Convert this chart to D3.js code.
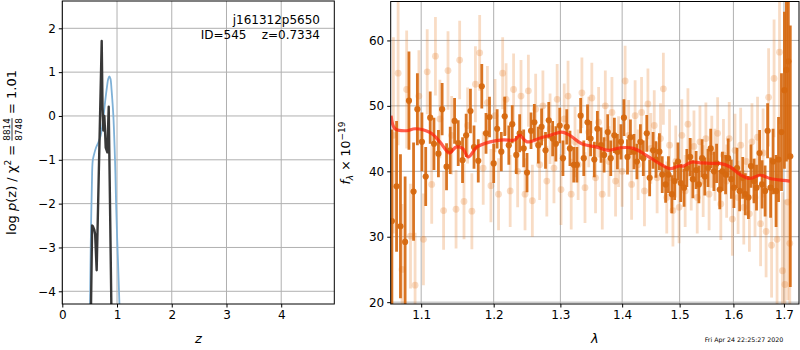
<!DOCTYPE html>
<html><head><meta charset="utf-8">
<script src="https://cdn.jsdelivr.net/npm/d3@7"></script>
<style>
html,body{margin:0;padding:0;background:#fff;}
svg{display:block;font-family:"DejaVu Sans",sans-serif;}
</style></head>
<body><svg id="c" width="800" height="350"></svg>
<script>
// ---------- DATA ----------
// left panel: log p(z)
const pzBlueZ = [0.507,0.515,0.526,0.54,0.556,0.58,0.617,0.66,0.70,0.74,0.78,0.82,0.84,0.86,0.88,0.90,0.915,0.934,0.955,0.97,0.983,1.0,1.02,1.044];
const pzBlueV = [-4.3,-3.4,-2.46,-1.6,-1.02,-0.88,-0.72,-0.6,-0.45,-0.15,0.3,0.7,0.85,0.9,0.85,0.6,0.35,-0.02,-0.7,-1.3,-2.0,-2.7,-3.4,-4.3];
const pzDarkZ = [0.525,0.545,0.56,0.585,0.60,0.628,0.72,0.735,0.75,0.768,0.78,0.793,0.823,0.848,0.896];
const pzDarkV = [-4.3,-2.5,-2.52,-2.6,-2.7,-3.52,1.71,0.2,-0.33,0.0,-0.3,-0.72,-0.83,0.21,-4.3];
const leftXTicks = [0,1,2,3,4];
const leftYTicks = [-4,-3,-2,-1,0,1,2];

// right panel: spectrum (dark = binned, light = second set)
const darkWave = [1.062,1.068,1.073,1.079,1.084,1.090,1.095,1.101,1.106,1.112,
1.117,1.123,1.128,1.134,1.139,1.145,1.150,1.156,1.161,1.167,
1.172,1.178,1.183,1.189,1.194,1.200,1.205,1.211,1.216,1.222,
1.227,1.233,1.238,1.244,1.249,1.255,1.260,1.266,1.271,1.277,
1.282,1.288,1.293,1.299,1.304,1.310,1.315,1.321,1.326,1.332,
1.337,1.343,1.348,1.354,1.359,1.365,1.370,1.376,1.381,1.387,
1.392,1.398,1.403,1.409,1.414,1.420,1.425,1.431,1.436,1.442,
1.447,1.453,1.458,1.464,1.469,1.475,1.480,1.486,1.491,1.497,
1.502,1.508,1.513,1.519,1.524,1.530,1.535,1.541,1.546,1.552,
1.557,1.563,1.568,1.574,1.579,1.585,1.590,1.596,1.601,1.607,
1.612,1.618,1.623,1.629,1.634,1.640,1.645,1.651,1.656,1.662,
1.667,1.673,1.678,1.684,1.689,1.695,1.701,1.705,1.709,1.713];
const darkFlux = [32.4,37.7,31.6,29.2,50.8,36.9,49.5,44.5,39.2,48.2,
44.2,42.7,49.5,40.7,43.2,47.7,44.3,41.7,45.5,49.2,
43.7,41.6,53.0,45.8,48.3,41.2,46.5,43.0,48.4,44.0,
47.2,42.5,45.8,43.5,39.8,46.2,47.5,44.0,46.8,43.2,
47.8,45.0,44.2,47.0,42.0,46.8,43.5,41.0,41.0,48.5,
42.0,47.5,45.0,41.8,46.5,44.0,42.5,46.0,42.0,45.5,
43.0,44.5,48.2,42.2,45.2,43.0,41.5,44.5,42.0,45.8,
39.0,43.2,41.8,43.0,39.5,38.0,39.5,36.5,38.5,41.5,
38.2,37.5,40.5,42.2,38.8,40.2,38.0,42.0,39.2,40.5,
43.5,40.0,41.2,37.2,40.0,39.5,42.0,38.8,37.5,40.5,
37.0,39.0,36.5,36.0,40.8,38.5,37.5,42.8,38.0,37.0,
46.2,37.5,41.5,37.0,41.8,46.0,52.4,55.5,56.8,42.3];
const darkErr = [14,10,11,10,7.5,7.5,5.5,4.5,4.5,4,
4,3.6,4,3.6,3.6,3.5,3.5,3.5,3.3,3.4,
3.3,3.3,3.4,3.1,3.1,3.0,3.0,3.0,3.0,3.0,
2.9,2.9,2.9,2.9,3.0,2.8,2.8,2.8,2.8,2.8,
2.8,2.7,2.7,2.7,2.7,2.7,2.7,2.7,2.7,2.7,
2.7,2.7,2.7,2.7,2.7,2.7,2.7,2.7,2.7,2.7,
2.7,2.7,2.8,2.7,2.7,2.7,2.7,2.7,2.7,2.8,
2.8,2.8,2.8,2.8,2.8,2.8,2.8,2.9,2.9,2.9,
2.9,2.9,2.9,2.9,2.9,2.9,2.9,2.9,2.9,2.9,
3.0,3.0,3.0,3.0,3.0,3.0,3.0,3.0,3.1,3.1,
3.1,3.2,3.2,3.3,3.3,3.4,3.5,3.5,3.7,3.9,
4.2,4.6,5,5.5,6.5,9,12,14,15,20];

const lightWave = [1.064,1.070,1.075,1.081,1.086,1.092,1.097,1.103,1.108,1.114,
1.119,1.125,1.130,1.136,1.141,1.147,1.152,1.158,1.163,1.169,
1.174,1.180,1.185,1.191,1.196,1.202,1.207,1.213,1.218,1.224,
1.229,1.235,1.240,1.246,1.251,1.257,1.262,1.268,1.273,1.279,
1.284,1.290,1.295,1.301,1.306,1.312,1.317,1.323,1.328,1.334,
1.339,1.345,1.350,1.356,1.361,1.367,1.372,1.378,1.383,1.389,
1.394,1.400,1.405,1.411,1.416,1.422,1.427,1.433,1.438,1.444,
1.449,1.455,1.460,1.466,1.471,1.477,1.482,1.488,1.493,1.499,
1.504,1.510,1.515,1.521,1.526,1.532,1.537,1.543,1.548,1.554,
1.559,1.565,1.570,1.576,1.581,1.587,1.592,1.598,1.603,1.609,
1.614,1.620,1.625,1.631,1.636,1.642,1.647,1.653,1.658,1.664,
1.669,1.675,1.680,1.686,1.691,1.697,1.702,1.708,1.712];
const lightFlux = [45.5,55.0,25.0,52.5,30.1,22.6,51.5,29.6,55.2,38.0,
57.6,48.0,34.0,55.4,45.5,34.2,57.0,35.4,47.0,33.9,
53.3,58.1,40.5,50.5,37.8,48.5,36.5,55.0,51.0,37.0,
52.5,40.0,51.5,36.5,52.3,35.5,49.5,41.0,50.0,38.5,
46.5,40.5,51.0,37.2,48.0,51.5,36.5,44.5,41.0,52.0,
37.5,46.0,51.2,39.0,47.5,36.5,50.0,41.5,49.0,38.5,
43.0,40.0,53.8,45.5,38.0,48.5,41.0,49.0,37.0,50.3,
43.5,47.0,39.0,45.0,52.6,36.0,44.0,34.0,41.5,34.5,
45.5,37.0,47.2,39.5,43.8,36.0,44.5,38.5,45.0,36.5,
43.0,41.0,45.8,35.0,42.5,38.5,45.0,32.7,43.2,36.0,
44.0,34.5,41.5,33.5,44.5,36.0,45.2,32.0,42.8,30.8,
51.3,28.7,54.2,29.6,58.2,24.8,22.7,35.3,29.0];
const lightErr = [15,11,10,9,8,8,7,7,6.5,6,
6,6,6,6,6,6,6,5.8,5.8,5.8,
5.8,5.8,5.6,5.6,5.6,5.6,5.5,5.5,5.5,5.5,
5.5,5.5,5.5,5.5,5.5,5.5,5.4,5.4,5.4,5.4,
5.4,5.4,5.4,5.4,5.4,5.4,5.4,5.4,5.4,5.4,
5.4,5.4,5.4,5.4,5.4,5.4,5.4,5.4,5.4,5.4,
5.4,5.4,5.4,5.4,5.4,5.4,5.4,5.4,5.4,5.4,
5.4,5.4,5.4,5.4,5.5,5.5,5.5,5.5,5.5,5.5,
5.5,5.5,5.5,5.5,5.5,5.5,5.5,5.5,5.5,5.5,
5.5,5.5,5.5,5.5,5.5,5.6,5.6,5.6,5.6,5.6,
5.7,5.7,5.8,5.8,5.9,6,6.2,6.5,6.8,7,
7.5,8,9,10,11,12,13,15,16];

const modelWave = [1.061,1.066,1.081,1.092,1.112,1.125,1.138,1.147,1.156,1.164,1.176,1.195,1.214,1.231,1.238,1.249,1.269,1.284,1.302,1.313,1.334,1.358,1.377,1.397,1.419,1.442,1.462,1.483,1.498,1.507,1.522,1.537,1.556,1.574,1.593,1.613,1.632,1.652,1.672,1.699,1.712];
const modelFlux = [48.5,46.5,46.2,46.5,45.9,44.5,42.8,43.7,43.5,42.2,43.7,44.5,44.8,44.8,45.5,44.5,45.1,45.5,46.0,45.6,44.2,43.7,43.2,43.6,43.5,42.4,41.3,40.4,40.8,40.8,41.4,41.3,41.2,41.2,40.7,39.5,38.9,39.4,38.9,38.6,38.5];
const rightXTicks = [1.1,1.2,1.3,1.4,1.5,1.6,1.7];
const rightYTicks = [20,30,40,50,60];

// ---------- DRAW ----------
const svg = d3.select("#c");
const fmtMinus = d => (d<0 ? "\u2212"+Math.abs(d) : String(d));
const gridCol = "#b0b0b0";

function frame(g, x0,x1,y0,y1){
  g.append("rect").attr("x",x0).attr("y",y0).attr("width",x1-x0).attr("height",y1-y0)
   .attr("fill","none").attr("stroke","#000").attr("stroke-width",1);
}

// ----- Left panel -----
const L = {x0:62.3,x1:334.3,y0:1,y1:304};
const xL = d3.scaleLinear().domain([0,4.97]).range([L.x0,L.x1]);
const yL = d3.scaleLinear().domain([-4.29,2.623]).range([L.y1,L.y0]);
const gL = svg.append("g");
gL.append("defs").append("clipPath").attr("id","clipL").append("rect")
  .attr("x",L.x0).attr("y",L.y0).attr("width",L.x1-L.x0).attr("height",L.y1-L.y0);
gL.selectAll(".gx").data(leftXTicks).join("line").attr("x1",d=>xL(d)).attr("x2",d=>xL(d))
  .attr("y1",L.y0).attr("y2",L.y1).attr("stroke",gridCol).attr("stroke-width",1);
gL.selectAll(".gy").data(leftYTicks).join("line").attr("y1",d=>yL(d)).attr("y2",d=>yL(d))
  .attr("x1",L.x0).attr("x2",L.x1).attr("stroke",gridCol).attr("stroke-width",1);
const cl = gL.append("g").attr("clip-path","url(#clipL)");
const lineL = d3.line().x(d=>xL(d[0])).y(d=>yL(d[1]));
cl.append("path").attr("d",d3.line().x(d=>xL(d[0])).y(d=>yL(d[1])).curve(d3.curveCatmullRom)(pzBlueZ.map((z,i)=>[z,pzBlueV[i]])))
  .attr("fill","none").attr("stroke","#7fb1d7").attr("stroke-width",1.8);
cl.append("path").attr("d",lineL(pzDarkZ.map((z,i)=>[z,pzDarkV[i]])))
  .attr("fill","none").attr("stroke","#383838").attr("stroke-width",2.4).attr("stroke-linejoin","round");
const axLB = gL.append("g").attr("transform",`translate(0,${L.y1})`)
  .call(d3.axisBottom(xL).tickValues(leftXTicks).tickFormat(fmtMinus).tickSize(3.5).tickPadding(3));
const axLL = gL.append("g").attr("transform",`translate(${L.x0},0)`)
  .call(d3.axisLeft(yL).tickValues(leftYTicks).tickFormat(fmtMinus).tickSize(3.5).tickPadding(3));
[axLB,axLL].forEach(a=>{a.select(".domain").remove();a.selectAll("text").attr("font-size",12).attr("fill","#000").attr("font-family","DejaVu Sans");a.selectAll("line").attr("stroke","#000");});
frame(gL,L.x0,L.x1,L.y0,L.y1);
gL.append("text").attr("x",320).attr("y",24).attr("text-anchor","end").attr("font-size",12).text("j161312p5650");
gL.append("text").attr("x",320).attr("y",39).attr("text-anchor","end").attr("font-size",12).text("ID=545\u00a0\u00a0\u00a0\u00a0z=0.7334");
gL.append("text").attr("x",(L.x0+L.x1)/2).attr("y",343).attr("text-anchor","middle").attr("font-size",13).attr("font-style","italic").text("z");

// left y label (rotated, with stacked fraction)
(function(){
  const g = svg.append("g");
  const fs = 13;
  const t1 = g.append("text").attr("font-size",fs).attr("y",0);
  t1.append("tspan").text("log ");
  t1.append("tspan").attr("font-style","italic").text("p");
  t1.append("tspan").text("(z) / \u03c7");
  t1.append("tspan").attr("font-size",fs*0.7).attr("dy",-5).text("2");
  t1.append("tspan").attr("dy",5).text("\u00a0=\u00a0");
  const w1 = t1.node().getComputedTextLength();
  const ffs = fs*0.68;
  const num = g.append("text").attr("font-size",ffs).attr("x",w1).attr("y",-6).text("8814");
  const den = g.append("text").attr("font-size",ffs).attr("x",w1).attr("y",5.5).text("8748");
  const wf = Math.max(num.node().getComputedTextLength(),den.node().getComputedTextLength());
  g.append("line").attr("x1",w1).attr("x2",w1+wf).attr("y1",-4).attr("y2",-4).attr("stroke","#000").attr("stroke-width",0.8);
  const t2 = g.append("text").attr("font-size",fs).attr("x",w1+wf).attr("y",0).text("\u00a0=\u00a01.01");
  const tot = w1+wf+t2.node().getComputedTextLength();
  g.attr("transform",`translate(16,${152.5+tot/2}) rotate(-90)`);
})();

// ----- Right panel -----
const R = {x0:390.7,x1:799,y0:1.5,y1:304};
const xR = d3.scaleLog().domain([1.0605,1.731]).range([R.x0,R.x1]);
const yR = d3.scaleLinear().domain([19.72,65.95]).range([R.y1,R.y0]);
const gR = svg.append("g");
gR.append("defs").append("clipPath").attr("id","clipR").append("rect")
  .attr("x",R.x0).attr("y",R.y0).attr("width",R.x1-R.x0).attr("height",R.y1-R.y0);
gR.selectAll(".gx").data(rightXTicks).join("line").attr("x1",d=>xR(d)).attr("x2",d=>xR(d))
  .attr("y1",R.y0).attr("y2",R.y1).attr("stroke",gridCol).attr("stroke-width",1);
gR.selectAll(".gy").data(rightYTicks).join("line").attr("y1",d=>yR(d)).attr("y2",d=>yR(d))
  .attr("x1",R.x0).attr("x2",R.x1).attr("stroke",gridCol).attr("stroke-width",1);
const cr = gR.append("g").attr("clip-path","url(#clipR)");
const light = lightWave.map((w,i)=>({w,f:lightFlux[i],e:lightErr[i]}));
const dark = darkWave.map((w,i)=>({w,f:darkFlux[i],e:darkErr[i]}));
const lightCol = "#e6832f", darkCol = "#d6680f";
cr.append("g").selectAll("line").data(light).join("line")
  .attr("x1",d=>xR(d.w)).attr("x2",d=>xR(d.w)).attr("y1",d=>yR(d.f-d.e)).attr("y2",d=>yR(d.f+d.e))
  .attr("stroke",lightCol).attr("stroke-opacity",0.28).attr("stroke-width",2.8);
cr.append("g").selectAll("circle").data(light).join("circle")
  .attr("cx",d=>xR(d.w)).attr("cy",d=>yR(d.f)).attr("r",3.4)
  .attr("fill",lightCol).attr("fill-opacity",0.28);
cr.append("g").selectAll("line").data(dark).join("line")
  .attr("x1",d=>xR(d.w)).attr("x2",d=>xR(d.w)).attr("y1",d=>yR(d.f-d.e)).attr("y2",d=>yR(d.f+d.e))
  .attr("stroke",darkCol).attr("stroke-opacity",0.92).attr("stroke-width",2.8);
cr.append("g").selectAll("circle").data(dark).join("circle")
  .attr("cx",d=>xR(d.w)).attr("cy",d=>yR(d.f)).attr("r",3.1)
  .attr("fill",darkCol).attr("fill-opacity",0.95);
cr.append("path").attr("d",d3.line().x(d=>xR(d[0])).y(d=>yR(d[1])).curve(d3.curveCatmullRom)(modelWave.map((w,i)=>[w,modelFlux[i]])))
  .attr("fill","none").attr("stroke","#ff1e0a").attr("stroke-opacity",0.72).attr("stroke-width",3.2);
const axRB = gR.append("g").attr("transform",`translate(0,${R.y1})`)
  .call(d3.axisBottom(xR).tickValues(rightXTicks).tickFormat(d3.format(".1f")).tickSize(3.5).tickPadding(3));
const axRL = gR.append("g").attr("transform",`translate(${R.x0},0)`)
  .call(d3.axisLeft(yR).tickValues(rightYTicks).tickFormat(d3.format("d")).tickSize(3.5).tickPadding(3));
[axRB,axRL].forEach(a=>{a.select(".domain").remove();a.selectAll("text").attr("font-size",12).attr("fill","#000").attr("font-family","DejaVu Sans");a.selectAll("line").attr("stroke","#000");});
frame(gR,R.x0,R.x1,R.y0,R.y1);
gR.append("text").attr("x",(R.x0+R.x1)/2).attr("y",343).attr("text-anchor","middle").attr("font-size",13).attr("font-style","italic").text("\u03bb");
(function(){
  const t = svg.append("text").attr("font-size",12.5).attr("text-anchor","middle")
    .attr("transform","translate(350,153) rotate(-90)");
  t.append("tspan").attr("font-style","italic").text("f");
  t.append("tspan").attr("font-size",9).attr("font-style","italic").attr("dy",3).text("\u03bb");
  t.append("tspan").attr("dy",-3).text(" \u00d7 10");
  t.append("tspan").attr("font-size",9).attr("dy",-5).text("\u221219");
})();
svg.append("text").attr("x",744).attr("y",342).attr("text-anchor","middle").attr("font-size",6.3).text("Fri Apr 24 22:25:27 2020");
</script></body></html>
